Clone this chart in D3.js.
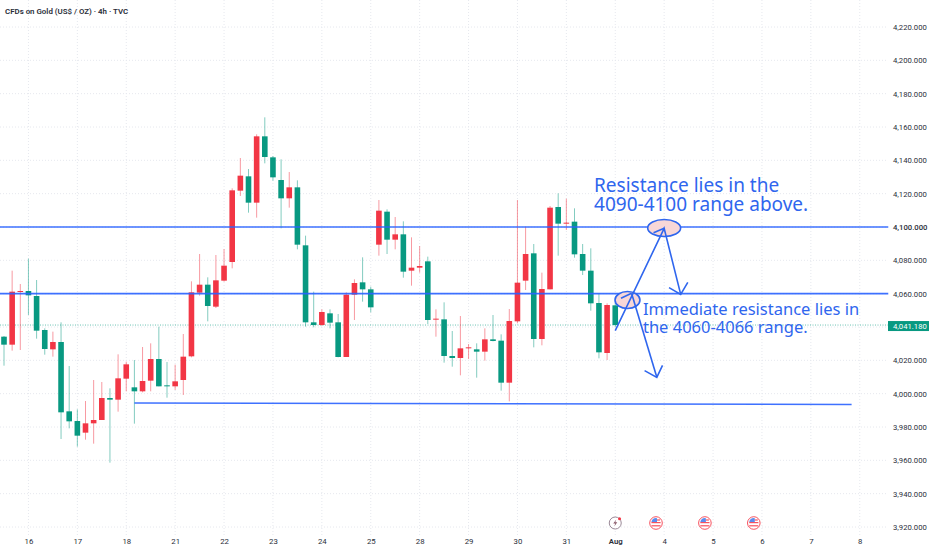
<!DOCTYPE html>
<html>
<head>
<meta charset="utf-8">
<script src="https://cdn.jsdelivr.net/npm/d3@7"></script>
<style>
  html, body { margin: 0; padding: 0; background: #fff; }
  text { font-family: Roboto, sans-serif; }
</style>
</head>
<body>
<div id="chart"></div>
<script>
// candles, one entry per 4h bar
const open = [4034.2,4029.4,4061,4061.6,4058.6,4038.2,4026.6,4031,3989.4,3983.6,3976.6,3982.2,3984.2,3997.4,3996.4,4009,4003.8,4001.4,4007.8,4020.8,4005,4004.4,4008.2,4022.4,4060.6,4065.4,4052.2,4067.8,4079,4121.8,4130.4,4114.6,4154.4,4141.8,4128.2,4117.2,4123.8,4089,4042.8,4041.2,4048.2,4042.8,4022,4059.4,4066.8,4062.6,4089.4,4109.2,4092.4,4095.6,4073.8,4075.6,4079.4,4044.6,4044.6,4022.6,4021.4,4027.2,4026.6,4025.2,4032.6,4031.8,4006.6,4043.4,4067.8,4084.2,4032.8,4062.6,4112,4102,4103.2,4083.8,4073.8,4054.4,4024.4,4053];
const high = [4034.6,4073.8,4065.8,4081,4068.2,4039.2,4037.2,4042.8,4016.6,3990.6,3995.6,4008.2,4007,4003.2,4023.6,4019.2,4020.2,4028,4030.2,4040.2,4019,4017.4,4035.8,4067.4,4083.8,4069.8,4083.2,4086.8,4123.2,4141.4,4134.8,4155.6,4165.8,4142.6,4140.6,4133,4128,4094.8,4061.2,4050.6,4050.6,4047.8,4060.8,4068.6,4081.8,4064.2,4116.2,4110.6,4106,4103.4,4093.8,4088.6,4082.2,4050.6,4054.8,4037.6,4046.6,4029.8,4030.2,4039.2,4047.2,4035.6,4050.8,4116.2,4100.2,4089.8,4072.6,4112.6,4120.2,4117,4111.2,4089.8,4087.2,4060.2,4054.2,4054.6];
const low = [4016.8,4025.8,4026.2,4047.2,4033,4023.4,4022.2,3972.8,3979.2,3968.2,3972.4,3970,3984.2,3958.6,3989.2,4001.4,3982,4000.8,4001.4,4004.4,3997.6,4002.2,3999.2,4021.8,4058.8,4043.4,4051.4,4067.2,4075.2,4118.6,4108.6,4105.6,4138.2,4127.8,4099.2,4111.6,4086.6,4040.2,4039.8,4040.6,4039.2,4021.8,4022,4044.2,4055.2,4048.8,4082.8,4083.8,4086.6,4069.6,4064.8,4072.6,4041.8,4034.2,4018.6,4016.2,4011,4020.8,4009.6,4019.8,4031.4,4001.8,3995.4,4042.2,4062.2,4027.8,4029,4062.6,4082.8,4098.2,4081.6,4071.2,4049.8,4021.2,4020.2,4040];
const close = [4029.4,4061.2,4061.6,4059,4037.8,4026.8,4031,3988.8,3983.4,3974.8,3982.2,3984.2,3997.4,3996.4,4009.2,4017.6,4001.4,4007.6,4020.8,4004.4,4004.4,4007.4,4022.2,4060.8,4065.4,4052.6,4068,4076.8,4122,4130.8,4114.6,4154.4,4142,4129.8,4117.2,4123.8,4089.4,4042.8,4041.2,4049,4042.6,4022,4059.4,4066.4,4062.6,4051.8,4109.8,4092.4,4095.6,4073.2,4075.6,4076.6,4044.2,4045,4022.6,4021.4,4027.2,4027.8,4025.2,4032.6,4031.6,4006.6,4043.6,4066.6,4083.8,4032.8,4062.8,4111.6,4102,4102.6,4083.6,4073.8,4054.2,4024.8,4053.2,4041.18];

const dayBars = [3,9,15,21,27,33,39,45,51,57,63,69,75,81,87,93,99,105];
const dayLabels = ["16","17","18","21","22","23","24","25","28","29","30","31","Aug","4","5","6","7","8"];
const priceTicks = [3920,3940,3960,3980,4000,4020,4040,4060,4080,4100,4120,4140,4160,4180,4200,4220];
const lastPrice = 4041.18;

// drawn levels: [bar from, price from, bar to, price to]
const levels = [[-1,4100,108.5,4100],[-1,4060,108.5,4060],[16,3994.4,104,3993.5]];
// hand drawn arrows, each a list of [bar, price]
const arrowUp = [[75,4037.8],[81,4099.2],[83.03,4059.6]];
const arrowHeadUp = [[79.7,4096.6],[81,4099.2]];
const arrowHeadRight = [[81.6,4063.6],[83.03,4059.6],[83.9,4066.8]];
const arrowDown = [[77,4060.2],[80.1,4009.8]];
const arrowHeadDown = [[78.6,4013.8],[80.1,4009.8],[80.8,4017]];
const arrowHeadLow = [[75.7,4057.2],[77,4060.2]];
// zones: bar, price, half width in bars, half height in price
const zones = [[81,4099.4,2.02,5.1],[76.5,4056.2,1.53,5.1]];
const flagBars = [80,86,92];
const boltBar = 75;
const eventPrice = 3922.4;

const notes = [
    {text: "Resistance lies in the", bar: 72.4, price: 4121, size: 19},
    {text: "4090-4100 range above.", bar: 72.4, price: 4109.6, size: 19},
    {text: "Immediate resistance lies in", bar: 78.4, price: 4047.2, size: 16.5},
    {text: "the 4060-4066 range.", bar: 78.4, price: 4036.4, size: 16.5}
];

const width = 932, height = 550;
const paneRight = 888;
const blue = "#2962ff";
const upColor = "#f23645", downColor = "#089981";

const svg = d3.select("#chart").append("svg")
    .attr("width", width).attr("height", height)
    .style("display", "block");

const x = d3.scaleLinear().domain([0, 75]).range([4, 615.25]);
const y = d3.scaleLinear().domain([3920, 4220]).range([527, 27]);

// grid
svg.append("g").selectAll("line").data(priceTicks).join("line")
    .attr("x1", 0).attr("x2", paneRight)
    .attr("y1", d => y(d)).attr("y2", d => y(d))
    .attr("stroke", "#e6e8ee").attr("stroke-dasharray", "1 2");
svg.append("g").selectAll("line").data(dayBars).join("line")
    .attr("x1", d => x(d)).attr("x2", d => x(d))
    .attr("y1", 0).attr("y2", 535)
    .attr("stroke", "#e6e8ee").attr("stroke-dasharray", "1 2");

// last price line
svg.append("line")
    .attr("x1", 0).attr("x2", paneRight)
    .attr("y1", y(lastPrice)).attr("y2", y(lastPrice))
    .attr("stroke", downColor).attr("stroke-opacity", 0.6).attr("stroke-dasharray", "1 1.5");

// candles
const bars = d3.range(open.length);
const candles = svg.append("g").selectAll("g").data(bars).join("g");
candles.append("line")
    .attr("x1", d => x(d)).attr("x2", d => x(d))
    .attr("y1", d => y(high[d])).attr("y2", d => y(low[d]))
    .attr("stroke", d => close[d] >= open[d] ? upColor : downColor)
    .attr("stroke-opacity", 0.5);
candles.append("rect")
    .attr("x", d => x(d) - 2.8)
    .attr("width", 5.6)
    .attr("y", d => y(Math.max(open[d], close[d])))
    .attr("height", d => Math.max(1, Math.abs(y(open[d]) - y(close[d]))))
    .attr("fill", d => close[d] >= open[d] ? upColor : downColor);

// levels
svg.append("g").selectAll("line").data(levels).join("line")
    .attr("x1", d => x(d[0])).attr("y1", d => y(d[1]))
    .attr("x2", d => x(d[2])).attr("y2", d => y(d[3]))
    .attr("stroke", blue).attr("stroke-opacity", 0.9)
    .attr("stroke-width", (d, i) => i == 1 ? 1.8 : 1.4);

// zones
svg.append("g").selectAll("ellipse").data(zones).join("ellipse")
    .attr("cx", d => x(d[0])).attr("cy", d => y(d[1]))
    .attr("rx", d => x(d[2]) - x(0)).attr("ry", d => y(0 + 4000) - y(d[3] + 4000))
    .attr("fill", "#f8d7d7")
    .attr("stroke", "#2f66ee").attr("stroke-width", 1.6);

// arrows
const line = d3.line().x(d => x(d[0])).y(d => y(d[1]));
svg.append("g").selectAll("path")
    .data([arrowUp, arrowHeadUp, arrowHeadRight, arrowDown, arrowHeadDown, arrowHeadLow])
    .join("path")
    .attr("d", line)
    .attr("fill", "none")
    .attr("stroke", "#2f66ee").attr("stroke-width", 1.6);

// notes
svg.append("g").selectAll("text").data(notes).join("text")
    .attr("x", d => x(d.bar)).attr("y", d => y(d.price))
    .attr("fill", "#2f66ee")
    .style("font-family", "'Noto Sans', sans-serif")
    .style("font-size", d => d.size + "px")
    .text(d => d.text);

// price axis
const yAxis = svg.append("g")
    .attr("transform", "translate(" + paneRight + ",0)")
    .call(d3.axisRight(y).tickValues(priceTicks).tickSize(0).tickPadding(5).tickFormat(d3.format(",.3f")));
yAxis.select(".domain").remove();
yAxis.selectAll("text").style("font-size", "7.7px").attr("fill", "#2a2e39")
    .style("font-weight", d => d == 4100 ? 500 : 400);

// last price tag
svg.append("rect")
    .attr("x", paneRight).attr("y", y(lastPrice) - 4)
    .attr("width", 41).attr("height", 10)
    .attr("fill", downColor);
svg.append("text")
    .attr("x", paneRight + 5).attr("y", y(lastPrice) + 3.8)
    .attr("fill", "#fff").style("font-size", "7.7px")
    .text(d3.format(",.3f")(lastPrice));

// time axis
const xAxis = svg.append("g")
    .attr("transform", "translate(0,536)")
    .call(d3.axisBottom(x).tickValues(dayBars).tickSize(0).tickPadding(2)
        .tickFormat((d, i) => dayLabels[i]));
xAxis.select(".domain").remove();
xAxis.selectAll("text").style("font-size", "7.8px").attr("fill", "#2a2e39")
    .style("font-weight", (d, i) => dayLabels[i] == "Aug" ? 600 : 400);

// economic event flags
const flags = svg.append("g").selectAll("g").data(flagBars).join("g")
    .attr("transform", d => "translate(" + x(d) + "," + y(eventPrice) + ")");
flags.append("circle").attr("r", 6.3).attr("fill", "#fff").attr("stroke", "#f7525f").attr("stroke-width", 1);
flags.append("rect").attr("x", -4.6).attr("y", -1).attr("width", 9.2).attr("height", 1.2).attr("fill", "#f7525f");
flags.append("rect").attr("x", -4.6).attr("y", 2.2).attr("width", 9.2).attr("height", 1.2).attr("fill", "#f7525f");
flags.append("path").attr("d", "M-4.6,-1 A5,5 0 0 1 1,-4.8 L1,-1 Z").attr("fill", "#5b8def");
flags.append("rect").attr("x", 1).attr("y", -3.6).attr("width", 3).attr("height", 1.2).attr("fill", "#f7525f");

const bolt = svg.append("g").attr("transform", "translate(" + x(boltBar) + "," + y(eventPrice) + ")");
bolt.append("circle").attr("r", 6).attr("fill", "#fff").attr("stroke", "#9b8a98").attr("stroke-width", 1);
bolt.append("path").attr("d", "M1,-3.5 L-2,0.5 L0,0.5 L-1,3.5 L2,-0.8 L0,-0.8 Z").attr("fill", "#8a5a6a");
bolt.append("circle").attr("cx", 4.3).attr("cy", -4.2).attr("r", 1.5).attr("fill", "#f23645");

// title
svg.append("text")
    .attr("x", 5).attr("y", 13.5)
    .attr("fill", "#2a2e39")
    .style("font-size", "7.9px").style("font-weight", 600)
    .text("CFDs on Gold (US$ / OZ) · 4h · TVC");
</script>
</body>
</html>
